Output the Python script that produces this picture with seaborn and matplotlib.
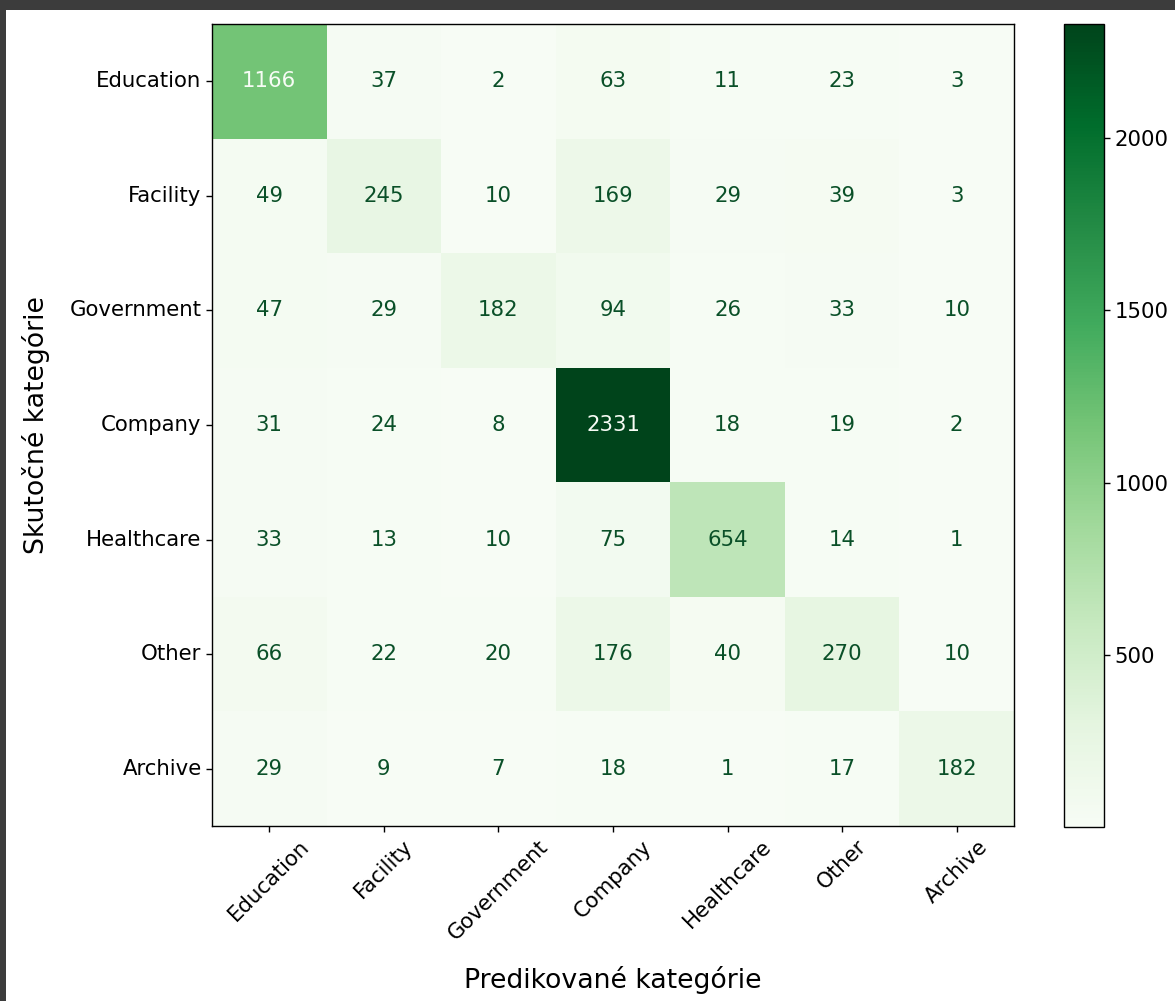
import numpy as np
import pandas as pd
import matplotlib
matplotlib.use("Agg")
import matplotlib.pyplot as plt
from matplotlib.patches import Rectangle
import seaborn as sns

categories = ["Education", "Facility", "Government", "Company", "Healthcare", "Other", "Archive"]

row_education = [1166, 37, 2, 63, 11, 23, 3]
row_facility = [49, 245, 10, 169, 29, 39, 3]
row_government = [47, 29, 182, 94, 26, 33, 10]
row_company = [31, 24, 8, 2331, 18, 19, 2]
row_healthcare = [33, 13, 10, 75, 654, 14, 1]
row_other = [66, 22, 20, 176, 40, 270, 10]
row_archive = [29, 9, 7, 18, 1, 17, 182]

colorbar_ticks = [500, 1000, 1500, 2000]

xlabel_text = "Predikované kategórie"
ylabel_text = "Skutočné kategórie"

cm = pd.DataFrame(
    [row_education, row_facility, row_government, row_company,
     row_healthcare, row_other, row_archive],
    index=categories, columns=categories,
)

sns.set_style("white")
plt.rcParams["font.family"] = ["DejaVu Sans"]
plt.rcParams["text.color"] = "black"
plt.rcParams["axes.labelcolor"] = "black"
plt.rcParams["xtick.color"] = "black"
plt.rcParams["ytick.color"] = "black"

W, H = 1175, 1001
fig = plt.figure(figsize=(W / 100, H / 100), dpi=100)
fig.patch.set_facecolor("white")

# dark window frame along top and left edges
fig.add_artist(Rectangle((0, 1 - 10 / H), 1, 10 / H, transform=fig.transFigure,
                         facecolor="#3c3c3c", edgecolor="none", zorder=0))
fig.add_artist(Rectangle((0, 0), 6 / W, 1, transform=fig.transFigure,
                         facecolor="#3c3c3c", edgecolor="none", zorder=0))

ax = fig.add_axes([212 / W, 1 - 826 / H, (1014 - 212) / W, (826 - 24) / H])
cax = fig.add_axes([1064 / W, 1 - 827 / H, (1104 - 1064) / W, (827 - 24) / H])

cmap = plt.get_cmap("Greens")
vmin, vmax = cm.values.min(), cm.values.max()
fs = 15.3
sns.heatmap(cm, ax=ax, cbar_ax=cax, cmap=cmap, vmin=vmin, vmax=vmax,
            annot=True, fmt="d", annot_kws={"fontsize": fs},
            square=False, linewidths=0)

# text colour: light on dark cells, dark on light cells
thresh = (vmax + vmin) / 2.0
vals = cm.values.ravel()
for t, v in zip(ax.texts, vals):
    t.set_color(cmap(0.0) if v >= thresh else "#0a5028")

for sp in ax.spines.values():
    sp.set_visible(True)
    sp.set_color("black")
    sp.set_linewidth(1.0)

ax.tick_params(axis="both", which="both", length=4, width=1, bottom=True, left=True,
               labelsize=fs, colors="black")
ax.set_xticklabels(categories, rotation=45, ha="center")
ax.set_yticklabels(categories, rotation=0)
ax.set_xlabel(xlabel_text, fontsize=19.3, labelpad=16, color="black")
ax.set_ylabel(ylabel_text, fontsize=19.3, labelpad=14, color="black")

cbar = ax.collections[0].colorbar
cbar.set_ticks(colorbar_ticks)
cbar.ax.tick_params(labelsize=fs, length=4, width=1, right=True, colors="black")
cbar.outline.set_visible(True)
cbar.outline.set_edgecolor("black")
cbar.outline.set_linewidth(1.0)

fig.savefig("out.png", dpi=100, facecolor=fig.get_facecolor())
